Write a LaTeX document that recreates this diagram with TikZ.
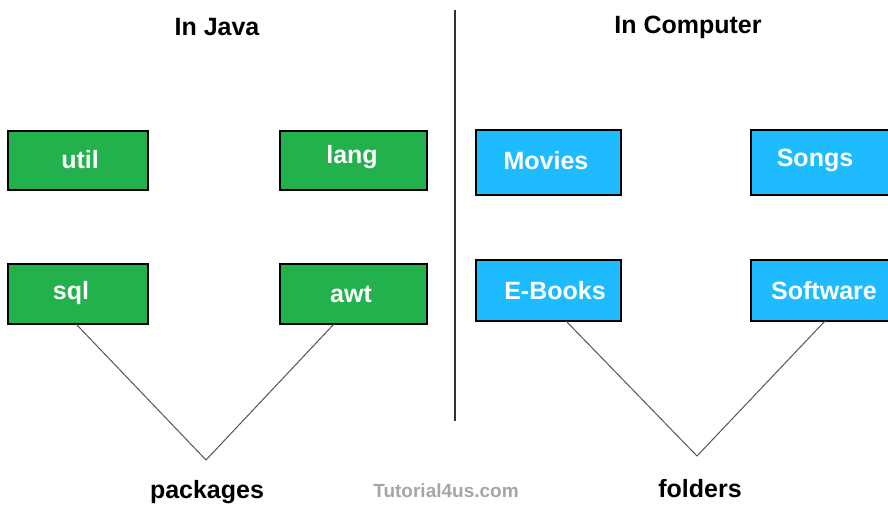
\documentclass[tikz,border=0pt]{standalone}
\usepackage{fontspec}
\setmainfont{Liberation Sans}
\definecolor{pgreen}{HTML}{22B14C}
\definecolor{pblue}{HTML}{1EBCFF}
\definecolor{lgray}{HTML}{555555}
\begin{document}
\begin{tikzpicture}[x=1pt,y=-1pt,
  gbox/.style={draw=black,line width=1.3pt,fill=pgreen,inner sep=0pt},
  bbox/.style={draw=black,line width=1.3pt,fill=pblue,inner sep=0pt},
  blab/.style={text=white,font=\bfseries\fontsize{25}{28}\selectfont,inner sep=0pt},
  ttl/.style={font=\bfseries\fontsize{25}{28}\selectfont,text=black,inner sep=0pt},
  conn/.style={draw=lgray,line width=1pt}]
\path[use as bounding box] (0,0) rectangle (888,506);
\begin{scope}
\clip (0,0) rectangle (888,506);
\node[gbox,minimum width=140pt,minimum height=59pt] (util) at (78,160.5) {};
\node[gbox,minimum width=147pt,minimum height=59pt] (lang) at (353.5,160.5) {};
\node[gbox,minimum width=140pt,minimum height=60pt] (sql) at (78,294) {};
\node[gbox,minimum width=147pt,minimum height=60pt] (awt) at (353.5,294) {};
\node[bbox,minimum width=145pt,minimum height=65pt] (movies) at (548.5,162.5) {};
\node[bbox,minimum width=145pt,minimum height=65pt] (songs) at (823.5,162.5) {};
\node[bbox,minimum width=145pt,minimum height=61pt] (ebooks) at (548.5,290.5) {};
\node[bbox,minimum width=145pt,minimum height=61pt] (soft) at (823.5,290.5) {};
\end{scope}
\node[blab] (tutil) at (80,160) {util};
\node[blab] (tlang) at (352,157) {lang};
\node[blab] (tsql) at (71,293) {sql};
\node[blab] (tawt) at (351,294) {awt};
\node[blab] (tmov) at (546,161) {Movies};
\node[blab] (tsong) at (815,160) {Songs};
\node[blab] (tebk) at (555,291) {E-Books};
\node[blab] (tsoft) at (824,291) {Software};
\draw[line width=1.3pt,black!80] (455,10) -- (455,421);
\node[ttl] (java) at (217,27) {In Java};
\node[ttl] (comp) at (688,27) {In Computer};
\coordinate (pv) at (206,460);
\coordinate (fv) at (697,456);
\draw[conn] (76,324) -- (pv) -- (334,324);
\draw[conn] (566,321) -- (fv) -- (825,321);
\node[ttl] (pk) at (207,492) {packages};
\node[ttl] (fo) at (700,489) {folders};
\node[font=\bfseries\fontsize{19}{22}\selectfont,text=black!35,inner sep=0pt] (wm) at (446,491) {Tutorial4us.com};
\end{tikzpicture}
\end{document}
